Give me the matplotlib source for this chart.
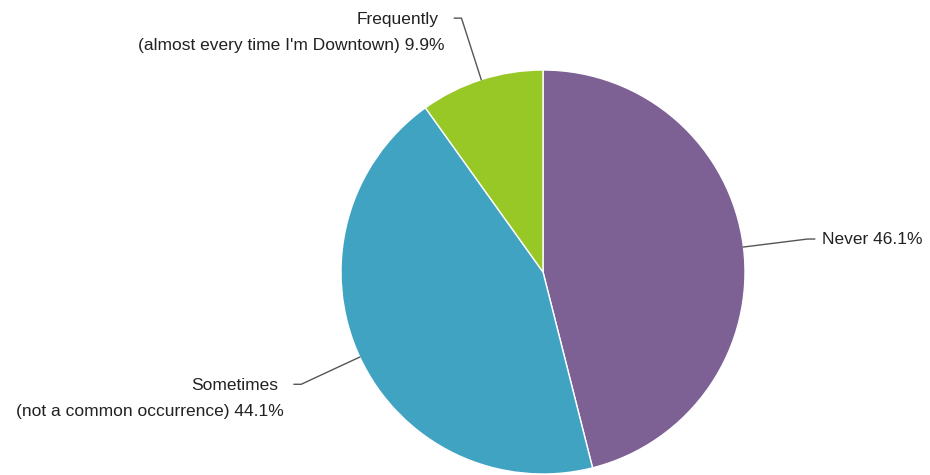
import numpy as np
import matplotlib.pyplot as plt

plt.rcParams['font.family'] = ['Liberation Sans', 'DejaVu Sans']

# answer shares, clockwise from 12 o'clock
categories = ["Never", "Sometimes\n(not a common occurrence)", "Frequently\n(almost every time I'm Downtown)"]
shares = [46.1, 44.1, 9.9]
colors = ["#7d6194", "#40a3c2", "#97c825"]


def main():
    W, H = 930, 475
    cx, cy, r = 543, 272, 202  # pie centre / radius in pixels
    fig = plt.figure(figsize=(W / 100, H / 100), dpi=100)
    ax = fig.add_axes([(cx - r) / W, (H - cy - r) / H, 2 * r / W, 2 * r / H])

    wedges, _ = ax.pie(shares, colors=colors, startangle=90, counterclock=False,
                       radius=1, wedgeprops=dict(edgecolor='white', linewidth=1))
    ax.set_xlim(-1, 1)
    ax.set_ylim(-1, 1)
    ax.axis('off')

    # label placement: elbow distance from centre
    elbow_r = 1.32
    stub = 0.035
    fs = 12.5
    for w, name, pct in zip(wedges, categories, shares):
        ang = np.deg2rad((w.theta1 + w.theta2) / 2)
        x0, y0 = np.cos(ang), np.sin(ang)
        ex, ey = elbow_r * np.cos(ang), elbow_r * np.sin(ang)
        right = x0 > 0
        sx = ex + (stub if right else -stub)
        ax.plot([x0, ex, sx], [y0, ey, ey], color='#555555', lw=1, clip_on=False)
        lines = name.split("\n")
        if len(lines) == 1:
            ax.text(sx + 0.035, ey, f"{lines[0]} {pct}%", ha='left', va='center',
                    fontsize=fs, color='#222222')
            continue
        tx = sx - 0.05
        ax.text(tx - 0.03, ey - 0.005, lines[0], ha='right', va='center',
                fontsize=fs, color='#222222')
        ax.text(tx, ey - 0.135, f"{lines[1]} {pct}%", ha='right', va='center',
                fontsize=fs, color='#222222')

    fig.savefig('out.png', dpi=100)


main()
